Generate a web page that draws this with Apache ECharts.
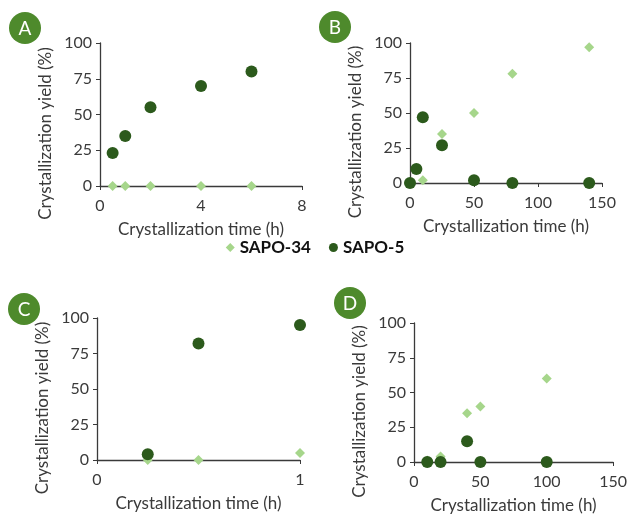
<!DOCTYPE html>
<html><head><meta charset="utf-8">
<script src="https://cdn.jsdelivr.net/npm/echarts@6/dist/echarts.min.js"></script>
<style>html,body{margin:0;padding:0;background:#fff}#c{width:630px;height:518px}</style>
</head><body><div id="c"></div>
<script>
// Panel A
const aTime34 = [0.5, 1, 2, 4, 6];
const aYield34 = [0, 0, 0, 0, 0];
const aTime5 = [0.5, 1, 2, 4, 6];
const aYield5 = [23, 35, 55, 70, 80];
// Panel B
const bTime34 = [10, 25, 50, 80, 140];
const bYield34 = [2, 35, 50, 78, 97];
const bTime5 = [0, 5, 10, 25, 50, 80, 140];
const bYield5 = [0, 10, 47, 27, 2, 0, 0];
// Panel C
const cTime34 = [0.25, 0.5, 1];
const cYield34 = [0, 0, 5];
const cTime5 = [0.25, 0.5, 1];
const cYield5 = [4, 82, 95];
// Panel D
const dTime34 = [10, 20, 40, 50, 100];
const dYield34 = [1, 4, 35, 40, 60];
const dTime5 = [10, 20, 40, 50, 100];
const dYield5 = [0, 0, 15, 0, 0];

const panelLetters = ['A', 'B', 'C', 'D'];
const xMax = [8, 150, 1, 150];
const xInterval = [4, 50, 1, 50];
const seriesNames = ['SAPO-34', 'SAPO-5'];

const c34 = '#a6d68b';
const c5 = '#2c5a1c';
const axisColor = '#3a3a3a';
const font = 'Lato, "Open Sans", sans-serif';

const zip = (xs, ys) => xs.map((x, i) => [x, ys[i]]);
const pairs = [
  [zip(aTime34, aYield34), zip(aTime5, aYield5)],
  [zip(bTime34, bYield34), zip(bTime5, bYield5)],
  [zip(cTime34, cYield34), zip(cTime5, cYield5)],
  [zip(dTime34, dYield34), zip(dTime5, dYield5)]
];

const grids = [
  {left: 100, top: 43, width: 202, height: 143},
  {left: 410, top: 43, width: 192, height: 140},
  {left: 97, top: 318, width: 203, height: 142},
  {left: 414, top: 323, width: 202, height: 139}
];

const xAxes = grids.map((g, i) => ({
  gridIndex: i, type: 'value', min: 0, max: xMax[i], interval: xInterval[i],
  name: 'Crystallization time (h)', nameLocation: 'middle', nameGap: 35,
  nameTextStyle: {fontFamily: font, fontSize: 17, color: axisColor},
  axisLine: {show: true, onZero: false, lineStyle: {color: axisColor, width: 1.3}},
  axisTick: {show: true, length: 4, lineStyle: {color: axisColor}},
  axisLabel: {fontFamily: font, fontSize: 16, color: axisColor, margin: 12},
  splitLine: {show: false}
}));
const yAxes = grids.map((g, i) => ({
  gridIndex: i, type: 'value', min: 0, max: 100, interval: 25,
  name: 'Crystallization yield (%)', nameLocation: 'middle', nameGap: 46,
  nameTextStyle: {fontFamily: font, fontSize: 17, color: axisColor, padding: [0, 38, 0, 0]},
  axisLine: {show: true, lineStyle: {color: axisColor, width: 1.3}},
  axisTick: {show: true, length: 4, lineStyle: {color: axisColor}},
  axisLabel: {fontFamily: font, fontSize: 16, color: axisColor, margin: 8},
  splitLine: {show: false}
}));

const series = [];
pairs.forEach((p, i) => {
  series.push({name: seriesNames[0], type: 'scatter', xAxisIndex: i, yAxisIndex: i,
    symbol: 'diamond', symbolSize: 10, itemStyle: {color: c34, opacity: 1}, data: p[0], z: 2});
  series.push({name: seriesNames[1], type: 'scatter', xAxisIndex: i, yAxisIndex: i,
    symbol: 'circle', symbolSize: 12, itemStyle: {color: c5, opacity: 1}, data: p[1], z: 3});
});

const letterPos = [[25, 28], [335, 27], [24, 309], [350, 303]];
const graphic = letterPos.map((pos, i) => ({
  type: 'group', x: pos[0], y: pos[1], children: [
    {type: 'circle', shape: {cx: 0, cy: 0, r: 16}, style: {fill: '#4e8a2c'}},
    {type: 'text', x: 0, y: 1, style: {text: panelLetters[i], fill: '#fff', font: '19px ' + font, align: 'center', verticalAlign: 'middle'}}
  ]
}));

const chart = echarts.init(document.getElementById('c'), null, {renderer: 'canvas'});
chart.setOption({
  animation: false,
  backgroundColor: '#fff',
  grid: grids,
  xAxis: xAxes,
  yAxis: yAxes,
  series: series,
  graphic: graphic,
  legend: {
    data: [
      {name: seriesNames[0], icon: 'diamond'},
      {name: seriesNames[1], icon: 'circle'}
    ],
    left: 'center', top: 234, itemWidth: 9, itemHeight: 9, itemGap: 18,
    textStyle: {fontFamily: font, fontSize: 17, fontWeight: 'bold', color: '#111'}
  }
});
</script></body></html>
